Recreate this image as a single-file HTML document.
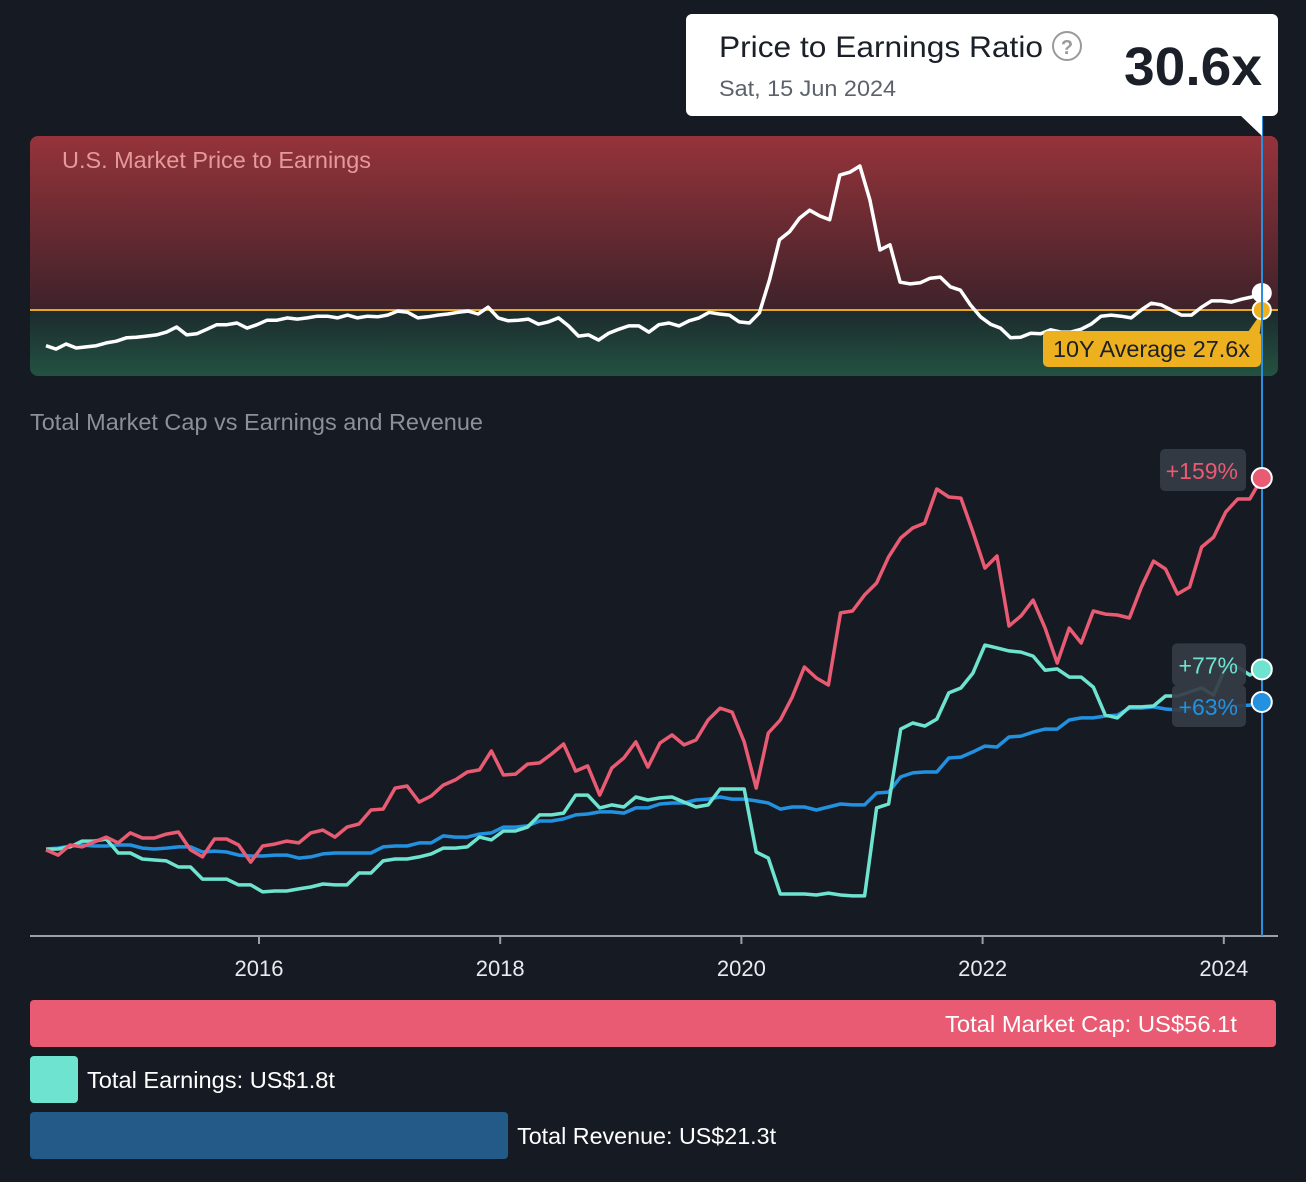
<!DOCTYPE html>
<html><head><meta charset="utf-8"><style>
html,body{margin:0;padding:0;background:#151a23;}
svg{display:block;font-family:"Liberation Sans",sans-serif;}
</style></head><body>
<svg id="chart" width="1306" height="1182" viewBox="0 0 1306 1182" xmlns="http://www.w3.org/2000/svg">
<defs>
<linearGradient id="redg" x1="0" y1="0" x2="0" y2="1"><stop offset="0" stop-color="#96333a"/><stop offset="1" stop-color="#3e222a"/></linearGradient>
<linearGradient id="greeng" x1="0" y1="0" x2="0" y2="1"><stop offset="0" stop-color="#1c2a2d"/><stop offset="1" stop-color="#235241"/></linearGradient>
<clipPath id="panelclip"><rect x="30" y="136" width="1248" height="240" rx="8"/></clipPath>
</defs>
<rect x="0" y="0" width="1306" height="1182" fill="#151a23"/>
<g clip-path="url(#panelclip)">
<rect x="30" y="136" width="1248" height="174" fill="url(#redg)"/>
<rect x="30" y="310" width="1248" height="66" fill="url(#greeng)"/>
</g>
<text x="62" y="168" font-size="23" fill="#e59a9a" textLength="309" lengthAdjust="spacingAndGlyphs">U.S. Market Price to Earnings</text>
<g id="peLayer"></g>
<text x="30" y="430" font-size="23" fill="#8b9099" textLength="453" lengthAdjust="spacingAndGlyphs">Total Market Cap vs Earnings and Revenue</text>
<line x1="30" y1="936" x2="1278" y2="936" stroke="#9aa0a8" stroke-width="2"/>
<g id="axisLayer"></g>
<g id="lineLayer"></g>
<line x1="1262" y1="116" x2="1262" y2="936" stroke="#2b8fe0" stroke-width="2"/>
<g id="labelLayer"></g>
<g id="barLayer"></g>
<g>
<rect x="686" y="14" width="592" height="102" rx="6" fill="#ffffff"/>
<polygon points="1240,115 1262,115 1262,136" fill="#ffffff"/>
<text x="719" y="57" font-size="30" fill="#1b1f27" textLength="324" lengthAdjust="spacingAndGlyphs">Price to Earnings Ratio</text>
<g><circle cx="1067" cy="46" r="14" fill="none" stroke="#9a9a9a" stroke-width="2"/><text x="1067" y="54" font-size="20" font-weight="bold" fill="#9a9a9a" text-anchor="middle">?</text></g>
<text x="719" y="96" font-size="22" fill="#5c626b" textLength="177" lengthAdjust="spacingAndGlyphs">Sat, 15 Jun 2024</text>
<text x="1262" y="85" font-size="54" font-weight="bold" fill="#1b1f27" text-anchor="end" textLength="138" lengthAdjust="spacingAndGlyphs">30.6x</text>
</g>
</svg>
<script>
const NS="http://www.w3.org/2000/svg";
const peStart=2014.234, peEnd=2024.315;
const peValues=[21.3,20.7,21.6,20.9,21.1,21.3,21.8,22.1,22.7,22.8,23.0,23.2,23.7,24.6,23.2,23.4,24.2,25.0,25.0,25.3,24.4,25.0,25.8,25.8,26.2,26.0,26.2,26.5,26.5,26.2,26.7,26.2,26.5,26.4,26.7,27.4,27.2,26.2,26.4,26.7,26.9,27.2,27.4,26.9,28.1,26.2,25.7,25.8,26.0,25.1,25.5,26.2,24.8,23.0,23.2,22.3,23.5,24.2,24.8,24.8,23.7,25.0,25.3,24.8,25.7,26.2,27.2,26.9,26.7,25.5,25.3,27.1,32.9,40.0,41.4,43.8,45.2,44.2,43.5,51.4,51.9,53.0,47.0,38.2,39.1,32.5,32.2,32.4,33.2,33.4,31.7,31.1,28.5,26.4,25.1,24.4,22.7,22.8,23.5,23.4,24.1,23.7,23.7,24.2,25.1,26.5,26.7,26.5,26.2,27.6,28.8,28.5,27.6,26.7,26.7,28.1,29.2,29.2,29.0,29.5,29.9,30.6];
const peAverage=27.6;
const seriesStart=2014.234, seriesEnd=2024.315;
const marketCapPct=[-0.4,-2.6,1.7,0.9,3.0,5.1,2.6,6.9,4.7,4.7,6.4,7.3,-0.4,-3.4,4.3,4.3,1.7,-5.6,1.3,2.1,3.4,2.6,6.9,8.1,5.1,9.4,10.7,16.7,17.1,26.1,27.0,20.1,22.7,27.4,29.6,33.0,33.9,42.0,31.7,32.1,36.4,36.9,40.7,45.0,33.4,35.6,23.1,34.7,39.0,45.9,35.1,45.4,48.9,44.6,46.7,55.3,60.4,58.7,45.9,26.1,49.7,55.3,65.2,78.0,73.3,70.3,101.2,102.0,108.9,114.0,125.2,133.3,137.6,139.7,154.3,150.9,150.4,135.9,120.4,125.6,95.6,99.9,106.7,94.7,79.7,94.7,88.3,102.0,100.7,100.3,99.0,112.3,123.4,120.0,109.3,112.3,129.4,133.7,144.4,150.0,150.0,159];
const earningsPct=[-0.1,0,0.9,3.4,3.4,4.3,-1.7,-1.7,-4.3,-4.7,-5.1,-7.7,-7.7,-12.9,-12.9,-12.9,-15.4,-15.4,-18.4,-18.0,-18.0,-17.1,-16.3,-15.0,-15.4,-15.4,-10.3,-10.3,-5.1,-4.3,-4.3,-3.4,-2.1,0.4,0.4,0.9,5.1,3.9,7.7,7.7,9.4,14.6,14.6,15.4,23.1,23.1,17.6,18.9,18.0,22.3,21.0,21.9,22.3,20.1,18.0,18.9,25.7,25.7,25.7,-1.3,-3.9,-19.3,-19.3,-19.3,-19.7,-18.9,-19.7,-20.1,-20.1,17.6,19.3,51.4,54.0,52.7,55.7,66.9,69.0,75.4,87.4,86.2,84.9,84.4,82.7,76.6,77.2,73.7,73.7,69.4,57.4,56.2,60.9,60.9,61.3,65.6,65.6,67.3,69.0,66.0,78.0,78.0,74.6,77];
const revenuePct=[0,0.4,1.3,1.7,1.3,1.3,1.7,1.7,0.4,0,0.4,0.9,0.9,-1.3,-0.9,-1.3,-2.6,-3.0,-3.0,-2.6,-2.6,-3.9,-3.4,-2.1,-1.7,-1.7,-1.7,-1.7,0.9,1.3,1.3,2.6,2.6,5.6,5.1,5.1,6.4,6.9,9.4,9.4,9.9,12.0,12.0,12.9,14.6,15.0,15.9,15.9,15.4,17.6,17.6,19.3,19.7,19.7,21.0,21.4,22.3,21.4,21.4,20.6,19.7,17.1,18.0,18.0,16.7,18.0,19.3,18.9,18.9,24.0,24.4,30.9,32.6,33.0,33.0,39.0,39.4,41.6,44.1,43.7,48.0,48.4,50.1,51.4,51.4,55.3,56.2,56.2,57.0,57.4,60.4,60.4,60.9,60.0,59.6,60.0,60.4,60.9,60.9,61.3,61.7,63];
const tickYears=[2016,2018,2020,2022,2024];
const tickLabels=["2016","2018","2020","2022","2024"];
const barLabels=["Total Market Cap: US$56.1t","Total Earnings: US$1.8t","Total Revenue: US$21.3t"];
const barValues=[56.1,1.8,21.3];
const endLabels=["+159%","+77%","+63%"];

function xYear(y){return 259+(y-2016)*120.6;}
function yPE(v){return 310-(v-peAverage)*5.67;}
function yPct(p){return 849-p*2.333;}
function mk(tag,attrs,parent){const e=document.createElementNS(NS,tag);for(const k in attrs)e.setAttribute(k,attrs[k]);parent.appendChild(e);return e;}
function pathFor(vals,start,end,yf){const n=vals.length;return vals.map((v,i)=>(i?"L":"M")+xYear(start+(end-start)*i/(n-1)).toFixed(1)+","+yf(v).toFixed(1)).join(" ");}

const peL=document.getElementById("peLayer");
const avg=mk("line",{x1:30,x2:1278,y1:yPE(peAverage),y2:yPE(peAverage),stroke:"#e5a81f","stroke-width":2},peL);


const peLine=mk("path",{d:pathFor(peValues,peStart,peEnd,yPE),fill:"none",stroke:"#ffffff","stroke-width":3.5,"stroke-linejoin":"round"},peL);


const avgBox=mk("g",{},peL);


mk("rect",{x:1043,y:331,width:218,height:36,rx:5,fill:"#edb01f"},avgBox);
mk("polygon",{points:"1248,332 1262,312 1260,332",fill:"#edb01f"},avgBox);
const at=mk("text",{x:1053,y:357,"font-size":23,fill:"#1b1f27",textLength:197,lengthAdjust:"spacingAndGlyphs"},avgBox);at.textContent="10Y Average "+peAverage+"x";
const peDot=mk("circle",{cx:xYear(peEnd),cy:yPE(peValues[peValues.length-1]),r:10,fill:"#ffffff"},peL);


const avgDot=mk("circle",{cx:xYear(peEnd),cy:yPE(peAverage),r:9,fill:"#edb01f",stroke:"#ffffff","stroke-width":2},peL);



const axL=document.getElementById("axisLayer");
tickYears.forEach((yr,i)=>{
  const t=mk("line",{x1:xYear(yr),x2:xYear(yr),y1:936,y2:944,stroke:"#9aa0a8","stroke-width":2},axL);
  
  
  const l=mk("text",{x:xYear(yr),y:976,"font-size":22,fill:"#e8eaed","text-anchor":"middle"},axL);
  
  
  l.textContent=tickLabels[i];
});

const lnL=document.getElementById("lineLayer");
const series=[[revenuePct,"#2291e0","revenue-line"],[earningsPct,"#6ee4d0","earnings-line"],[marketCapPct,"#e85b73","market-cap-line"]];
series.forEach(s=>{
  const p=mk("path",{d:pathFor(s[0],seriesStart,seriesEnd,yPct),fill:"none",stroke:s[1],"stroke-width":3.5,"stroke-linejoin":"round"},lnL);
  
  
});

const lbL=document.getElementById("labelLayer");
const endSeries=[[marketCapPct,"#e85b73",1160],[earningsPct,"#6ee4d0",1172],[revenuePct,"#2291e0",1172]];
const endNames=['market-cap-end-label','earnings-end-label','revenue-end-label'];
endSeries.forEach((s,i)=>{
  const yv=yPct(s[0][s[0].length-1]);
  let cy=yv-7; if(i===2) cy=yv+5; if(i===1) cy=yv-4;
  const g=mk("g",{},lbL);
  
  
  mk("rect",{x:s[2],y:cy-22,width:1246-s[2],height:42,rx:5,fill:"#353c47","fill-opacity":0.92},g);
  const t=mk("text",{x:1238,y:cy+8,"font-size":23,fill:s[1],"text-anchor":"end"},g);t.textContent=endLabels[i];
  mk("circle",{cx:xYear(seriesEnd),cy:yv,r:10,fill:s[1],stroke:"#ffffff","stroke-width":2},g);
});

const bL=document.getElementById("barLayer");
const maxBar=Math.max(...barValues);
const barColors=["#e85b73","#6ee4d0","#235a87"];
const barNames=['market-cap-bar','earnings-bar','revenue-bar'];
const barTextLen=[292,248,259];
barValues.forEach((v,i)=>{
  const w=Math.max(48,1246*v/maxBar+5*(v<maxBar?1:0));
  const y=1000+i*56;
  const g=mk("g",{},bL);
  
  
  mk("rect",{x:30,y:y,width:w,height:47,rx:4,fill:barColors[i]},g);
  let t;
  if(w>600){t=mk("text",{x:30+w-39-barTextLen[i],y:y+32,"font-size":23,fill:"#ffffff",textLength:barTextLen[i],lengthAdjust:"spacingAndGlyphs"},g);}
  else{t=mk("text",{x:30+w+9,y:y+32,"font-size":23,fill:"#ffffff",textLength:barTextLen[i],lengthAdjust:"spacingAndGlyphs"},g);}
  t.textContent=barLabels[i];
});
</script>
</body></html>
